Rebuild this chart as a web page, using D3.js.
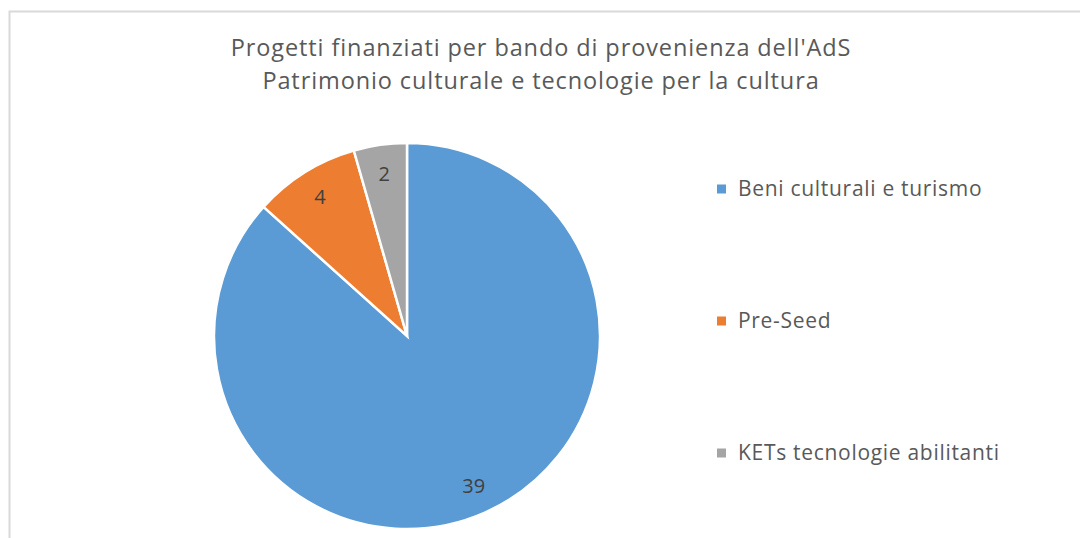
<!DOCTYPE html>
<meta charset="utf-8">
<body style="margin:0;background:white">
  <div id="content"></div>
</body>
<script src="https://cdn.jsdelivr.net/npm/d3@7"></script>
<script>
// chart data
var categories = ["Beni culturali e turismo", "Pre-Seed", "KETs tecnologie abilitanti"];
var values = [39, 4, 2];
var colors = ["#5b9bd5", "#ed7d31", "#a5a5a5"];
var titleLines = ["Progetti finanziati per bando di provenienza dell'AdS",
                  "Patrimonio culturale e tecnologie per la cultura"];

var chart = { width: 1080, height: 538 };
var pie = { cx: 407, cy: 336, r: 193, labelR: 0.85 };
var legend = { x: 717, y: 189, step: 132, box: 9 };

var svg = d3.select('#content').append('svg')
    .attr('width', chart.width).attr('height', chart.height)
    .style('font-family', "'Open Sans', sans-serif");

// frame of the chart area
svg.append('rect')
    .attr('x', 9.5).attr('y', 11.5)
    .attr('width', chart.width).attr('height', chart.height)
    .attr('fill', 'white').attr('stroke', '#d9d9d9').attr('stroke-width', 2);

// title
svg.append('g').selectAll('text').data(titleLines).enter().append('text')
    .attr('x', 541)
    .attr('y', function (d, i) { return 56 + i * 33; })
    .attr('text-anchor', 'middle')
    .attr('font-size', 23.5)
    .attr('letter-spacing', 0.9)
    .attr('fill', '#595959')
    .text(function (d) { return d; });

var data = categories.map(function (c, i) { return { label: c, value: values[i], color: colors[i] }; });

var arcs = d3.pie().sort(null).value(function (d) { return d.value; })(data);
var arc = d3.arc().innerRadius(0).outerRadius(pie.r);
var labelArc = d3.arc().innerRadius(pie.r * pie.labelR).outerRadius(pie.r * pie.labelR);

var g = svg.append('g').attr('transform', 'translate(' + [pie.cx, pie.cy] + ')');
g.selectAll('path').data(arcs).enter().append('path')
    .attr('d', arc)
    .attr('fill', function (d) { return d.data.color; })
    .attr('stroke', 'white').attr('stroke-width', 2.5);

g.selectAll('text').data(arcs).enter().append('text')
    .attr('transform', function (d) { return 'translate(' + labelArc.centroid(d) + ')'; })
    .attr('text-anchor', 'middle')
    .attr('dy', '0.35em')
    .attr('font-size', 20)
    .attr('fill', '#404040')
    .text(function (d) { return d.data.value; });

// legend
var lg = svg.append('g').selectAll('g').data(data).enter().append('g')
    .attr('transform', function (d, i) { return 'translate(' + [legend.x, legend.y + i * legend.step] + ')'; });
lg.append('rect')
    .attr('x', 0).attr('y', -legend.box / 2)
    .attr('width', legend.box).attr('height', legend.box)
    .attr('fill', function (d) { return d.color; });
lg.append('text')
    .attr('x', 21).attr('dy', '0.35em')
    .attr('font-size', 21)
    .attr('letter-spacing', 0.7)
    .attr('fill', '#595959')
    .text(function (d) { return d.label; });
</script>
